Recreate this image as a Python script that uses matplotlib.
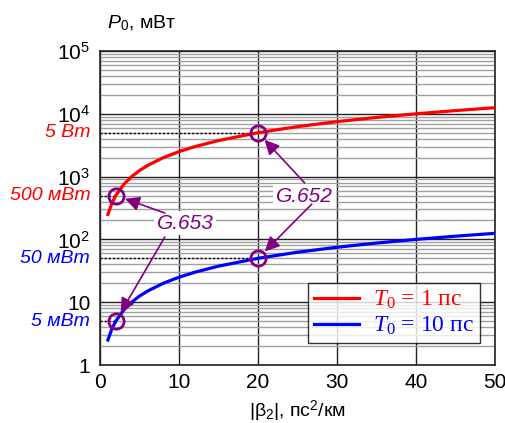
import matplotlib
matplotlib.use("Agg")
import matplotlib.pyplot as plt
from matplotlib.ticker import LogLocator, FixedLocator, NullFormatter
import matplotlib.transforms as mtransforms

plt.rcParams['font.family'] = ['Liberation Sans', 'DejaVu Sans']
plt.rcParams['mathtext.fontset'] = 'custom'
plt.rcParams['mathtext.rm'] = 'Liberation Serif'
plt.rcParams['mathtext.it'] = 'Liberation Serif:italic'
plt.rcParams['mathtext.sf'] = 'Liberation Sans:italic'

# Data
beta2 = [1.0, 1.5, 2, 3, 4, 5, 6, 8, 10, 12, 15, 20, 25, 30, 35, 40, 45, 50]
p_t0_1 = [250, 375, 500, 750, 1000, 1250, 1500, 2000, 2500, 3000, 3750, 5000,
          6250, 7500, 8750, 10000, 11250, 12500]
p_t0_10 = [2.5, 3.75, 5, 7.5, 10, 12.5, 15, 20, 25, 30, 37.5, 50,
           62.5, 75, 87.5, 100, 112.5, 125]
label_t0_1 = r'$T_0$ = 1 пс'
label_t0_10 = r'$T_0$ = 10 пс'

# marked points
g653_beta = 2
g652_beta = 20
red_marks = [500, 5000]
blue_marks = [5, 50]
red_mark_labels = ['500 мВт', '5 Вт']
blue_mark_labels = ['5 мВт', '50 мВт']

xticks = [0, 10, 20, 30, 40, 50]
yticks = [1, 10, 100, 1000, 10000, 100000]
yticklabels = ['1', '10', r'$\mathregular{10^{2}}$', r'$\mathregular{10^{3}}$',
               r'$\mathregular{10^{4}}$', r'$\mathregular{10^{5}}$']

RED = '#ff0000'
BLUE = '#0000ff'
PURPLE = '#800080'

fig = plt.figure(figsize=(5.05, 4.23), dpi=100)
ax = fig.add_axes([100/505, 58/423, 395/505, 314/423])
ax.set_xscale('linear')
ax.set_yscale('log')
ax.set_xlim(0, 50)
ax.set_ylim(1, 1e5)

ax.yaxis.set_major_locator(FixedLocator(yticks))
ax.set_yticklabels(yticklabels)
ax.yaxis.set_minor_locator(LogLocator(base=10, subs=range(2, 10), numticks=20))
ax.yaxis.set_minor_formatter(NullFormatter())
ax.set_xticks(xticks)
ax.set_xticklabels([str(v) for v in xticks])
ax.tick_params(which='both', length=0, labelsize=15)
ax.tick_params(axis='y', pad=7)
ax.tick_params(axis='x', pad=6)

ax.grid(which='minor', axis='y', color='#a0a0a0', lw=1.0)
ax.grid(which='major', axis='both', color='#222222', lw=1.0)
ax.set_axisbelow(True)
for s in ax.spines.values():
    s.set_color('#222222')
    s.set_linewidth(1.2)

# curves
ax.plot(beta2, p_t0_1, color=RED, lw=2.3, label=label_t0_1, zorder=3)
ax.plot(beta2, p_t0_10, color=BLUE, lw=2.3, label=label_t0_10, zorder=3)

# dotted guides
for b, v in [(g653_beta, red_marks[0]), (g652_beta, red_marks[1]),
             (g653_beta, blue_marks[0]), (g652_beta, blue_marks[1])]:
    ax.plot([0, b], [v, v], color='black', ls=(0, (1.5, 1.5)), lw=1.0, zorder=2)
    ax.plot([b], [v], marker='o', ms=11, mfc='none', mec=PURPLE, mew=2, zorder=5)

# colored tick-like labels
trans = mtransforms.blended_transform_factory(ax.transAxes, ax.transData)
for v, t in zip(red_marks, red_mark_labels):
    ax.text(-0.025, v, t, transform=trans, ha='right', va='center',
            color=RED, style='italic', fontsize=14)
for v, t in zip(blue_marks, blue_mark_labels):
    ax.text(-0.025, v, t, transform=trans, ha='right', va='center',
            color=BLUE, style='italic', fontsize=14)

# annotations
arrow_kw = dict(arrowstyle='-|>', color=PURPLE, lw=1.2, mutation_scale=22,
                shrinkA=0, shrinkB=7)
ax.text(10.8, 182, 'G.653', color=PURPLE, style='italic', fontsize=15,
        ha='center', va='center', zorder=6,
        bbox=dict(facecolor='white', edgecolor='none', pad=2))
ax.annotate('', xy=(g653_beta, red_marks[0]), xytext=(8.2, 263), arrowprops=arrow_kw, zorder=6)
ax.annotate('', xy=(g653_beta, blue_marks[0]), xytext=(8.2, 109), arrowprops=arrow_kw, zorder=6)

ax.text(25.9, 490, 'G.652', color=PURPLE, style='italic', fontsize=15,
        ha='center', va='center', zorder=6,
        bbox=dict(facecolor='white', edgecolor='none', pad=2))
ax.annotate('', xy=(g652_beta, red_marks[1]), xytext=(25.9, 793), arrowprops=arrow_kw, zorder=6)
ax.annotate('', xy=(g652_beta, blue_marks[1]), xytext=(26.8, 364), arrowprops=arrow_kw, zorder=6)

# legend
leg = ax.legend(loc='lower right', bbox_to_anchor=(0.962, 0.07),
                prop={'family': 'Liberation Serif', 'size': 17},
                frameon=True, fancybox=False, handlelength=1.9,
                borderpad=0.25, labelspacing=0.15, handletextpad=0.6,
                borderaxespad=0)
leg.get_frame().set_edgecolor('black')
leg.get_frame().set_linewidth(1.0)
leg.set_zorder(10)
for txt, c in zip(leg.get_texts(), [RED, BLUE]):
    txt.set_color(c)

# axis labels
fig.text(107/505, 1 - 28/423, r'$\mathsf{P}_{\mathregular{0}}$, мВт', fontsize=14,
         ha='left', va='baseline')
fig.text(297/505, 1 - 417/423, r'|β$_{\mathregular{2}}$|, пс$^{\mathregular{2}}$/км',
         fontsize=14, ha='center', va='baseline')

fig.savefig('out.png', dpi=100)
